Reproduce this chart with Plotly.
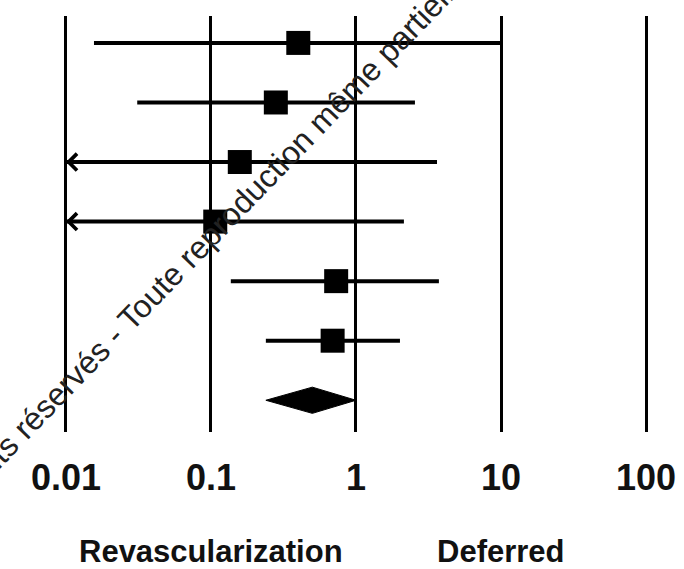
import numpy as np
import plotly.graph_objects as go

# ---- data ----
rows = [0, 1, 2, 3, 4, 5]
estimates = [0.40, 0.28, 0.158, 0.107, 0.73, 0.69]
lower = [0.0156, 0.031, 0.01, 0.01, 0.137, 0.239]
upper = [10.0, 2.55, 3.62, 2.14, 3.73, 2.01]
lower_truncated = [False, False, True, True, False, False]

pooled_row = 6
pooled_est = 0.50
pooled_lo = 0.239
pooled_hi = 1.0

tick_vals = [0.01, 0.1, 1, 10, 100]
tick_text = ["0.01", "0.1", "1", "10", "100"]
side_labels = ["Revascularization", "Deferred"]
side_label_x = [0.1, 10]

watermark = "Droits réservés - Toute reproduction même partielle interdite"

FONT = "Liberation Sans, Arial, Helvetica, sans-serif"
W, H, MT, MB = 684, 569, 16, 137
PH = H - MT - MB

fig = go.Figure()

# confidence interval lines
for r, lo, hi in zip(rows, lower, upper):
    fig.add_trace(go.Scatter(x=[lo, hi], y=[r, r], mode="lines",
                             line=dict(color="black", width=4),
                             showlegend=False, hoverinfo="skip"))

# point estimates
fig.add_trace(go.Scatter(x=estimates, y=rows, mode="markers",
                         marker=dict(symbol="square", size=24, color="black"),
                         showlegend=False))

# pooled diamond
h = 0.22
fig.add_trace(go.Scatter(
    x=[pooled_lo, pooled_est, pooled_hi, pooled_est, pooled_lo],
    y=[pooled_row, pooled_row - h, pooled_row, pooled_row + h, pooled_row],
    mode="lines", fill="toself", fillcolor="black",
    line=dict(color="black", width=1), showlegend=False))

# arrows for truncated lower bounds
for r, lo, tr in zip(rows, lower, lower_truncated):
    if tr:
        fig.add_annotation(x=np.log10(lo), y=r, xref="x", yref="y",
                           ax=np.log10(lo) + 0.12, ay=r, axref="x", ayref="y",
                           showarrow=True, arrowhead=4, arrowsize=1.3,
                           arrowwidth=2.5, arrowcolor="black", text="")

# side labels
for lab, xv in zip(side_labels, side_label_x):
    fig.add_annotation(x=np.log10(xv), y=-0.288, xref="x", yref="paper",
                       text=f"<b>{lab}</b>", showarrow=False,
                       xanchor="center", yanchor="middle",
                       font=dict(family=FONT, size=31, color="#111"))

# watermark text (centre in page pixels -> paper coords)
wm_px, wm_py = 250, 194
fig.add_annotation(x=wm_px / W, y=1 - (wm_py - MT) / PH,
                   xref="paper", yref="paper",
                   text=watermark, showarrow=False, textangle=-46,
                   xanchor="center", yanchor="middle",
                   font=dict(family=FONT, size=32, color="#222"))

fig.update_xaxes(type="log", range=[-2.455, 2.262],
                 tickvals=tick_vals, ticktext=[f"<b>{t}</b>" for t in tick_text],
                 tickfont=dict(family=FONT, size=36, color="#111"),
                 showgrid=True, gridcolor="black", gridwidth=3,
                 zeroline=False, showline=False,
                 ticks="outside", ticklen=14, tickcolor="rgba(0,0,0,0)")
fig.update_yaxes(range=[6.533, -0.452], visible=False, showgrid=False,
                 zeroline=False)

fig.update_layout(width=W, height=H,
                  margin=dict(l=0, r=0, t=MT, b=MB),
                  plot_bgcolor="white", paper_bgcolor="white",
                  showlegend=False)

fig.write_html("out.html")
